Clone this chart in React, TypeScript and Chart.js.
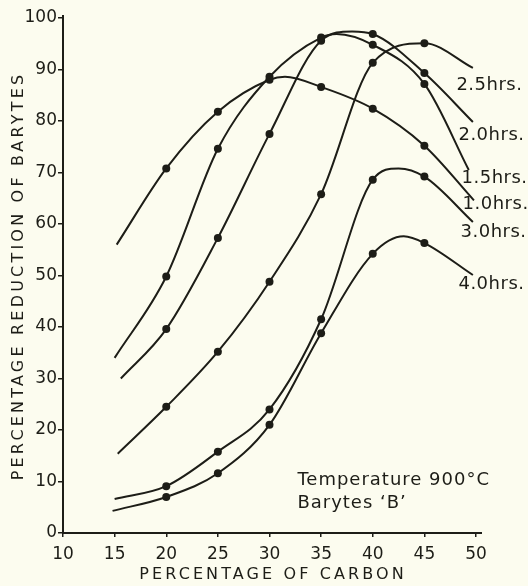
import React, { useEffect, useRef } from 'react';
import { Chart, registerables } from 'chart.js';

Chart.register(...registerables);

// ---- data ----
const carbon = [20, 25, 30, 35, 40, 45];
const seriesNames = ['1.0hrs.', '1.5hrs.', '2.0hrs.', '2.5hrs.', '3.0hrs.', '4.0hrs.'];
const red10 = [70.8, 81.8, 88.0, 86.6, 82.4, 75.2];
const red15 = [49.8, 74.6, 88.6, 96.2, 94.8, 87.2];
const red20 = [39.6, 57.3, 77.5, 95.6, 96.9, 89.3];
const red25 = [24.5, 35.2, 48.8, 65.8, 91.3, 95.1];
const red30 = [9.1, 15.8, 24.0, 41.5, 68.6, 69.2];
const red40 = [7.0, 11.6, 21.0, 38.8, 54.2, 56.3];
// ends of the drawn smooth curves and their turning points
const startCarbon = [15.2, 15.0, 15.6, 15.3, 15.0, 14.8];
const startRed = [56.0, 34.0, 30.0, 15.4, 6.6, 4.3];
const endCarbon = [49.8, 49.3, 49.7, 49.7, 49.7, 49.7];
const endRed = [64.6, 70.5, 79.8, 90.3, 60.4, 50.1];
const peakCarbon = [31.5, 36.5, 38.0, null, 42.5, 43.0];
const peakRed = [88.6, 96.9, 97.4, null, 70.8, 57.6];
const xTicks = [10, 15, 20, 25, 30, 35, 40, 45, 50];
const yTicks = [0, 10, 20, 30, 40, 50, 60, 70, 80, 90, 100];
const noteLines = ['Temperature 900°C', 'Barytes ‘B’'];
const xTitle = 'PERCENTAGE OF CARBON';
const yTitle = 'PERCENTAGE REDUCTION OF BARYTES';

const allSeries = [red10, red15, red20, red25, red30, red40];

const ink = '#1d1d17';
const paper = '#fcfcef';
const FONT = '"DejaVu Sans", sans-serif';

// label placement (layout, in axis units)
const labelX = [48.7, 48.6, 48.3, 48.1, 48.5, 48.3];
const labelY = [63.9, 68.9, 77.3, 87.0, 58.3, 48.2];

const textPlugin = {
  id: 'texts',
  afterDraw(chart: any) {
    const { ctx, chartArea } = chart;
    const x = chart.scales.x;
    const y = chart.scales.y;
    ctx.save();
    // small axis extensions beyond the last ticks
    ctx.strokeStyle = ink;
    ctx.lineWidth = 2;
    ctx.beginPath();
    ctx.moveTo(chartArea.left, chartArea.top);
    ctx.lineTo(chartArea.left, chartArea.top - 3);
    ctx.moveTo(chartArea.right, chartArea.bottom);
    ctx.lineTo(chartArea.right + 6, chartArea.bottom);
    ctx.stroke();

    ctx.fillStyle = ink;
    ctx.textBaseline = 'middle';
    ctx.textAlign = 'left';
    try { (ctx as any).letterSpacing = '0.5px'; } catch (e) {}
    ctx.font = `18px ${FONT}`;
    seriesNames.forEach((n, i) => {
      ctx.fillText(n, x.getPixelForValue(labelX[i]), y.getPixelForValue(labelY[i]));
    });
    try { (ctx as any).letterSpacing = '1px'; } catch (e) {}
    ctx.font = `18px ${FONT}`;
    ctx.fillText(noteLines[0], x.getPixelForValue(32.7), y.getPixelForValue(10.3));
    ctx.fillText(noteLines[1], x.getPixelForValue(32.7), y.getPixelForValue(5.8));

    // axis titles
    ctx.font = `16px ${FONT}`;
    ctx.textAlign = 'center';
    try { (ctx as any).letterSpacing = '3.1px'; } catch (e) {}
    ctx.fillText(xTitle, 273, 575);
    try { (ctx as any).letterSpacing = '3.2px'; } catch (e) {}
    ctx.translate(19, 276);
    ctx.rotate(-Math.PI / 2);
    ctx.fillText(yTitle, 0, 0);
    ctx.restore();
  },
};

function buildCurve(i: number) {
  const pts: { x: number; y: number }[] = [];
  pts.push({ x: startCarbon[i], y: startRed[i] });
  carbon.forEach((c, k) => pts.push({ x: c, y: allSeries[i][k] }));
  if (peakCarbon[i] != null) pts.push({ x: peakCarbon[i] as number, y: peakRed[i] as number });
  pts.push({ x: endCarbon[i], y: endRed[i] });
  pts.sort((a, b) => a.x - b.x);
  return pts;
}

export default function App() {
  const ref = useRef<HTMLCanvasElement | null>(null);
  useEffect(() => {
    if (!ref.current) return;
    const curves = allSeries.map((_, i) => ({
      type: 'line' as const,
      label: seriesNames[i],
      data: buildCurve(i),
      borderColor: ink,
      borderWidth: 2,
      pointRadius: 0,
      fill: false,
      cubicInterpolationMode: 'monotone' as const,
    }));
    const markers = allSeries.map((s, i) => ({
      type: 'scatter' as const,
      label: seriesNames[i] + ' pts',
      data: carbon.map((c, k) => ({ x: c, y: s[k] })),
      showLine: false,
      pointRadius: 4,
      pointBackgroundColor: ink,
      pointBorderWidth: 0,
      borderColor: ink,
    }));
    const chart = new Chart(ref.current, {
      type: 'line',
      data: { datasets: [...curves, ...markers] as any },
      options: {
        animation: false,
        responsive: false,
        devicePixelRatio: 1,
        layout: { padding: { top: 18, right: 52, left: 0, bottom: 0 } },
        plugins: { legend: { display: false }, tooltip: { enabled: false } },
        scales: {
          x: {
            type: 'linear',
            min: 10,
            max: 50,
            afterBuildTicks: (s: any) => { s.ticks = xTicks.map((v) => ({ value: v })); },
            afterFit: (s: any) => { s.height = 53; },
            ticks: { color: ink, font: { family: FONT, size: 17 }, padding: 7 },
            grid: { display: true, drawOnChartArea: false, drawTicks: true, tickLength: 4, color: ink, lineWidth: 1.5 },
            border: { display: true, color: ink, width: 2 },
          },
          y: {
            type: 'linear',
            min: 0,
            max: 100,
            afterBuildTicks: (s: any) => { s.ticks = yTicks.map((v) => ({ value: v })); },
            afterFit: (s: any) => { s.width = 63; },
            ticks: { color: ink, font: { family: FONT, size: 17 }, padding: 1 },
            grid: { display: true, drawOnChartArea: false, drawTicks: true, tickLength: 5, color: ink, lineWidth: 1.5 },
            border: { display: true, color: ink, width: 2 },
          },
        },
      },
      plugins: [textPlugin],
    });
    return () => chart.destroy();
  }, []);
  return (
    <div style={{ position: 'fixed', left: 0, top: 0, width: 528, height: 586, background: paper }}>
      <canvas ref={ref} width={528} height={586} style={{ display: 'block' }} />
    </div>
  );
}
